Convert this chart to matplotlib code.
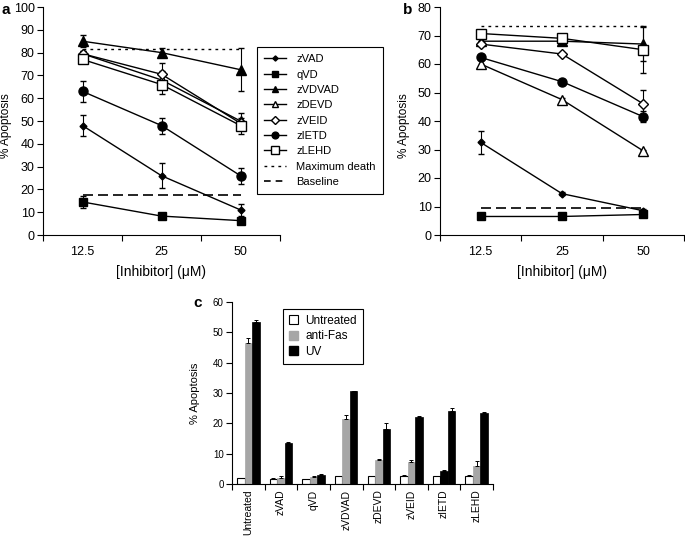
import numpy as np
import matplotlib
matplotlib.use("Agg")
import matplotlib.pyplot as plt
from matplotlib.lines import Line2D
from matplotlib.patches import Patch

plt.rcParams['font.family'] = ['Liberation Sans', 'DejaVu Sans']

# panel a / b data
conc = ["12.5", "25", "50"]
names = ["zVAD", "qVD", "zVDVAD", "zDEVD", "zVEID", "zIETD", "zLEHD"]

a_vals = {
    "zVAD":   [48, 26, 11],
    "qVD":    [14.5, 8.3, 6.3],
    "zVDVAD": [85, 80, 72.5],
    "zDEVD":  [79.5, 68, 50],
    "zVEID":  [79.5, 70.5, 49],
    "zIETD":  [63, 48, 26],
    "zLEHD":  [77, 66, 48],
}
a_err = {
    "zVAD":   [4.5, 5.5, 2.5],
    "qVD":    [2.5, 1.5, 0.5],
    "zVDVAD": [2.5, 2, 9.5],
    "zDEVD":  [1, 4, 1.5],
    "zVEID":  [1, 5, 4.5],
    "zIETD":  [4.5, 3.5, 3.5],
    "zLEHD":  [1, 4, 2],
}
a_max, a_base = 81.5, 17.5

b_vals = {
    "zVAD":   [32.5, 14.5, 8.5],
    "qVD":    [6.5, 6.5, 7.2],
    "zVDVAD": [68, 68, 67],
    "zDEVD":  [60, 47.5, 29.5],
    "zVEID":  [67, 63.5, 46],
    "zIETD":  [62.3, 53.8, 41.5],
    "zLEHD":  [70.7, 69, 65],
}
b_err = {
    "zVAD":   [4, 0.5, 0.5],
    "qVD":    [0.3, 0.3, 0.3],
    "zVDVAD": [1, 1, 6],
    "zDEVD":  [1.5, 0.5, 0.5],
    "zVEID":  [0.5, 0.5, 5],
    "zIETD":  [0.5, 0.5, 2],
    "zLEHD":  [0.5, 0.5, 8.3],
}
b_max, b_base = 73.5, 9.5

# panel c data
groups = ["Untreated", "zVAD", "qVD", "zVDVAD", "zDEVD", "zVEID", "zIETD", "zLEHD"]
untreated = [2.0, 1.8, 1.8, 2.5, 2.5, 2.8, 2.5, 2.7]
untreated_err = [0, 0.2, 0, 0, 0, 0.3, 0, 0.2]
antifas = [46.5, 2.0, 2.3, 21.5, 8.0, 7.2, 4.3, 6.0]
antifas_err = [1.5, 0.5, 0.3, 1.3, 0.3, 0.6, 0.2, 1.5]
uv = [53.5, 13.5, 3.0, 30.5, 18.0, 22.2, 24.2, 23.5]
uv_err = [0.7, 0.5, 0.2, 0.2, 2.2, 0.2, 1.0, 0.2]

markers = {
    "zVAD":   dict(marker="D", ms=3.5, mfc="black"),
    "qVD":    dict(marker="s", ms=6, mfc="black"),
    "zVDVAD": dict(marker="^", ms=6.5, mfc="black"),
    "zDEVD":  dict(marker="^", ms=6.5, mfc="white"),
    "zVEID":  dict(marker="D", ms=5, mfc="white"),
    "zIETD":  dict(marker="o", ms=6.5, mfc="black"),
    "zLEHD":  dict(marker="s", ms=7, mfc="white"),
}

fig = plt.figure(figsize=(6.85, 5.37), dpi=100)


def style_axes(ax, fs=9):
    ax.spines['top'].set_visible(False)
    ax.spines['right'].set_visible(False)
    ax.tick_params(axis='y', direction='out', length=4, labelsize=fs, pad=2)
    ax.tick_params(axis='x', which='major', direction='out', length=4, labelbottom=False)
    ax.tick_params(axis='x', which='minor', length=0, labelsize=fs, pad=8)


def line_panel(ax, vals, errs, vmax, vbase, ymax, ystep, ylab_x):
    x = np.arange(len(conc))
    ax.plot(x, [vmax] * 3, color="black", ls=(0, (2, 3)), lw=1)
    ax.plot(x, [vbase] * 3, color="black", ls=(0, (6, 3)), lw=1.2)
    for n in names:
        ax.errorbar(x, vals[n], yerr=errs[n], color="black", lw=1, capsize=2,
                    elinewidth=0.8, mec="black", **markers[n])
    ax.set_xlim(-0.5, 2.5)
    ax.set_ylim(0, ymax)
    ax.set_yticks(np.arange(0, ymax + 1, ystep))
    ax.set_xticks([-0.5, 0.5, 1.5, 2.5])
    ax.set_xticks(x, minor=True)
    ax.set_xticklabels(conc, minor=True)
    style_axes(ax)
    ax.set_ylabel("% Apoptosis", fontsize=8.5)
    ax.yaxis.set_label_coords(ylab_x, 0.48)
    ax.set_xlabel("[Inhibitor] (\u03bcM)", fontsize=10, labelpad=5)


ax_a = fig.add_axes([43 / 685, 1 - 235 / 537, 237 / 685, 228 / 537])
line_panel(ax_a, a_vals, a_err, a_max, a_base, 100, 10, -31 / 237)

ax_b = fig.add_axes([440 / 685, 1 - 235 / 537, 244 / 685, 228 / 537])
line_panel(ax_b, b_vals, b_err, b_max, b_base, 80, 10, -30 / 244)

handles = [Line2D([], [], color="black", lw=1, mec="black", **markers[n]) for n in names]
handles += [Line2D([], [], color="black", ls=(0, (2, 3)), lw=1),
            Line2D([], [], color="black", ls=(0, (4, 3)), lw=1.2)]
labels = names + ["Maximum death", "Baseline"]
for h in handles[:7]:
    h.set_markersize(h.get_markersize() * 0.75)
leg = fig.legend(handles, labels, loc="upper left",
                 bbox_to_anchor=(257 / 685, 1 - 47 / 537), bbox_transform=fig.transFigure,
                 borderaxespad=0, fancybox=False, edgecolor="black", framealpha=1,
                 fontsize=8, handlelength=2.0, labelspacing=0.48, borderpad=0.65,
                 handletextpad=0.9)
leg.get_frame().set_linewidth(0.8)

# panel c
ax_c = fig.add_axes([232 / 685, 1 - 484 / 537, 261 / 685, 182 / 537])
xc = np.arange(len(groups))
w = 0.23
anti_colors = ["#a6a6a6"] * len(groups)
anti_colors[groups.index("zIETD")] = "black"
ax_c.bar(xc - w, untreated, w, color="white", edgecolor="black", lw=0.8,
         yerr=[np.zeros(len(groups)), untreated_err], capsize=1.5,
         error_kw=dict(elinewidth=0.7, capthick=0.7))
ax_c.bar(xc, antifas, w, color=anti_colors, edgecolor=anti_colors, lw=0.5,
         yerr=[np.zeros(len(groups)), antifas_err], capsize=1.5,
         error_kw=dict(elinewidth=0.7, capthick=0.7))
ax_c.bar(xc + w, uv, w, color="black", edgecolor="black", lw=0.5,
         yerr=[np.zeros(len(groups)), uv_err], capsize=1.5,
         error_kw=dict(elinewidth=0.7, capthick=0.7))
ax_c.set_xlim(-0.5, len(groups) - 0.5)
ax_c.set_ylim(0, 60)
ax_c.set_yticks(np.arange(0, 61, 10))
ax_c.set_xticks(np.arange(-0.5, len(groups)))
ax_c.set_xticks(xc, minor=True)
ax_c.set_xticklabels(groups, minor=True, rotation=90)
style_axes(ax_c, fs=7)
ax_c.tick_params(axis='x', which='minor', pad=4, labelsize=7.5)
ax_c.set_ylabel("% Apoptosis", fontsize=8)
ax_c.yaxis.set_label_coords(-32 / 261, 0.5)

leg_c = fig.legend([Patch(facecolor="white", edgecolor="black", lw=0.8),
                    Patch(facecolor="#a6a6a6", edgecolor="#a6a6a6"),
                    Patch(facecolor="black", edgecolor="black")],
                   ["Untreated", "anti-Fas", "UV"], loc="upper left",
                   bbox_to_anchor=(283 / 685, 1 - 309 / 537), bbox_transform=fig.transFigure,
                   borderaxespad=0, fancybox=False, edgecolor="black", framealpha=1,
                   fontsize=8.5, handlelength=0.8, handleheight=0.8, labelspacing=0.3,
                   borderpad=0.5, handletextpad=0.6)
leg_c.get_frame().set_linewidth(0.8)

fig.text(1 / 685, 1 - 10 / 537, "a", fontsize=11, fontweight="bold", va="center")
fig.text(403 / 685, 1 - 10 / 537, "b", fontsize=11, fontweight="bold", va="center")
fig.text(193 / 685, 1 - 303 / 537, "c", fontsize=11, fontweight="bold", va="center")

fig.savefig("out.png", dpi=100)
